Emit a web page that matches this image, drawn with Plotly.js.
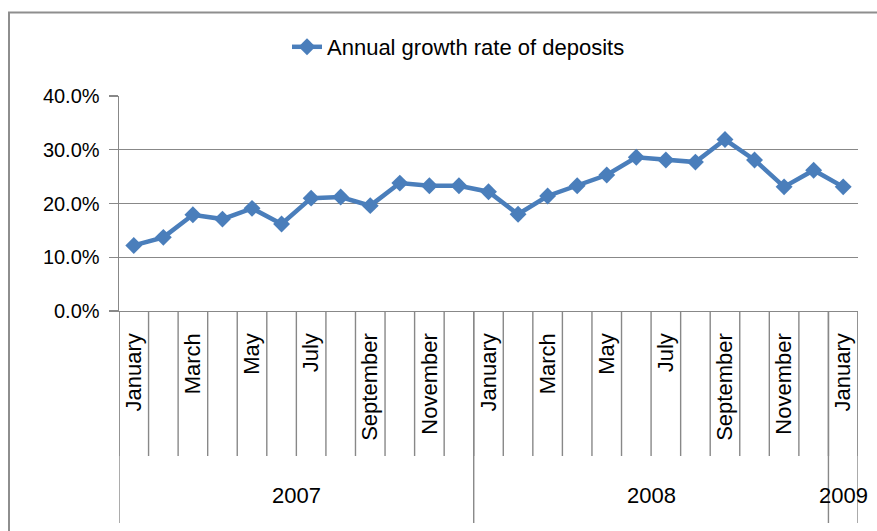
<!DOCTYPE html>
<html>
<head>
<meta charset="utf-8">
<script src="https://cdn.plot.ly/plotly-3.0.1.min.js"></script>
<style>
  html, body { margin: 0; padding: 0; background: #ffffff; }
  #chart { width: 877px; height: 531px; }
</style>
</head>
<body>
<div id="chart"></div>
<script>
// ---- data ----
const months = ["January","February","March","April","May","June","July","August","September","October","November","December",
                "January","February","March","April","May","June","July","August","September","October","November","December",
                "January"];
const years = [2007,2007,2007,2007,2007,2007,2007,2007,2007,2007,2007,2007,
               2008,2008,2008,2008,2008,2008,2008,2008,2008,2008,2008,2008,
               2009];
const growth = [12.2, 13.7, 17.9, 17.1, 19.1, 16.2, 21.0, 21.2, 19.6, 23.8, 23.3, 23.3,
                22.2, 18.0, 21.4, 23.3, 25.3, 28.6, 28.1, 27.7, 31.9, 28.1, 23.1, 26.2,
                23.1];
const seriesName = "Annual growth rate of deposits";
const yTicks = [0, 10, 20, 30, 40];
const yTickLabels = ["0.0%", "10.0%", "20.0%", "30.0%", "40.0%"];

// ---- layout helpers ----
const W = 877, H = 531;
const L = 119, R = 858, T = 96, B = 311;
const px2x = p => (p - L) / (R - L);
const py2y = p => (B - p) / (B - T);
const grey = "#888888";
const FONT = "Liberation Sans, Arial, sans-serif";

const idx = months.map((_, i) => i);
const tickText = months.map((m, i) => (i % 2 === 0 ? m : ""));

const shapes = [];
// month boundary lines
for (let i = 0; i <= months.length; i++) {
  shapes.push({type: "line", xref: "x", yref: "paper", x0: i - 0.5, x1: i - 0.5,
               y0: 0, y1: py2y(456), line: {color: grey, width: 1.4}});
}
// year boundary lines + year labels
const annotations = [];
let start = 0;
for (let i = 1; i <= years.length; i++) {
  if (i === years.length || years[i] !== years[start]) {
    annotations.push({xref: "x", yref: "paper", x: (start + i - 1) / 2, y: py2y(495),
                      text: String(years[start]), showarrow: false,
                      xanchor: "center", yanchor: "middle",
                      font: {family: FONT, size: 22, color: "#000"}});
    start = i;
  }
}
const bounds = [-0.5];
for (let i = 1; i < years.length; i++) if (years[i] !== years[i - 1]) bounds.push(i - 0.5);
bounds.push(years.length - 0.5);
bounds.forEach(b => shapes.push({type: "line", xref: "x", yref: "paper", x0: b, x1: b,
                                 y0: 0, y1: py2y(523), line: {color: grey, width: 1.4}}));
// chart border
shapes.push({type: "rect", xref: "paper", yref: "paper",
             x0: px2x(9), x1: px2x(900), y0: py2y(12.5), y1: py2y(560),
             line: {color: "#8e8e8e", width: 2}, fillcolor: "rgba(0,0,0,0)"});

const trace = {
  x: idx, y: growth, type: "scatter", mode: "lines+markers", name: seriesName,
  line: {color: "#4a7ebb", width: 4.5},
  marker: {symbol: "diamond", size: 13, color: "#4a7ebb"},
  showlegend: true
};

const layout = {
  width: W, height: H,
  margin: {l: L, r: W - R, t: T, b: H - B, pad: 0},
  paper_bgcolor: "#ffffff", plot_bgcolor: "#ffffff",
  font: {family: FONT, color: "#000"},
  showlegend: true,
  legend: {orientation: "h", x: px2x(287), xanchor: "left", y: py2y(47), yanchor: "middle",
           font: {family: FONT, size: 22, color: "#000"}, bgcolor: "rgba(0,0,0,0)",
           itemwidth: 30},
  xaxis: {
    type: "linear", range: [-0.5, months.length - 0.5],
    tickmode: "array", tickvals: idx, ticktext: tickText, tickangle: -90,
    ticks: "", showgrid: false, zeroline: false,
    showline: true, linecolor: grey, linewidth: 1.4,
    tickfont: {family: FONT, size: 22, color: "#000"},
    ticklabelstandoff: 12,
    fixedrange: true
  },
  yaxis: {
    range: [0, 40], tickmode: "array", tickvals: yTicks, ticktext: yTickLabels,
    ticks: "outside", ticklen: 9, tickcolor: grey, tickwidth: 1.4,
    showgrid: true, gridcolor: grey, gridwidth: 1.4,
    zeroline: false, showline: true, linecolor: grey, linewidth: 1.4,
    tickfont: {family: FONT, size: 20, color: "#000"},
    ticklabelstandoff: 5,
    fixedrange: true
  },
  shapes: shapes,
  annotations: annotations
};

Plotly.newPlot("chart", [trace], layout, {displayModeBar: false, staticPlot: true});
</script>
</body>
</html>
